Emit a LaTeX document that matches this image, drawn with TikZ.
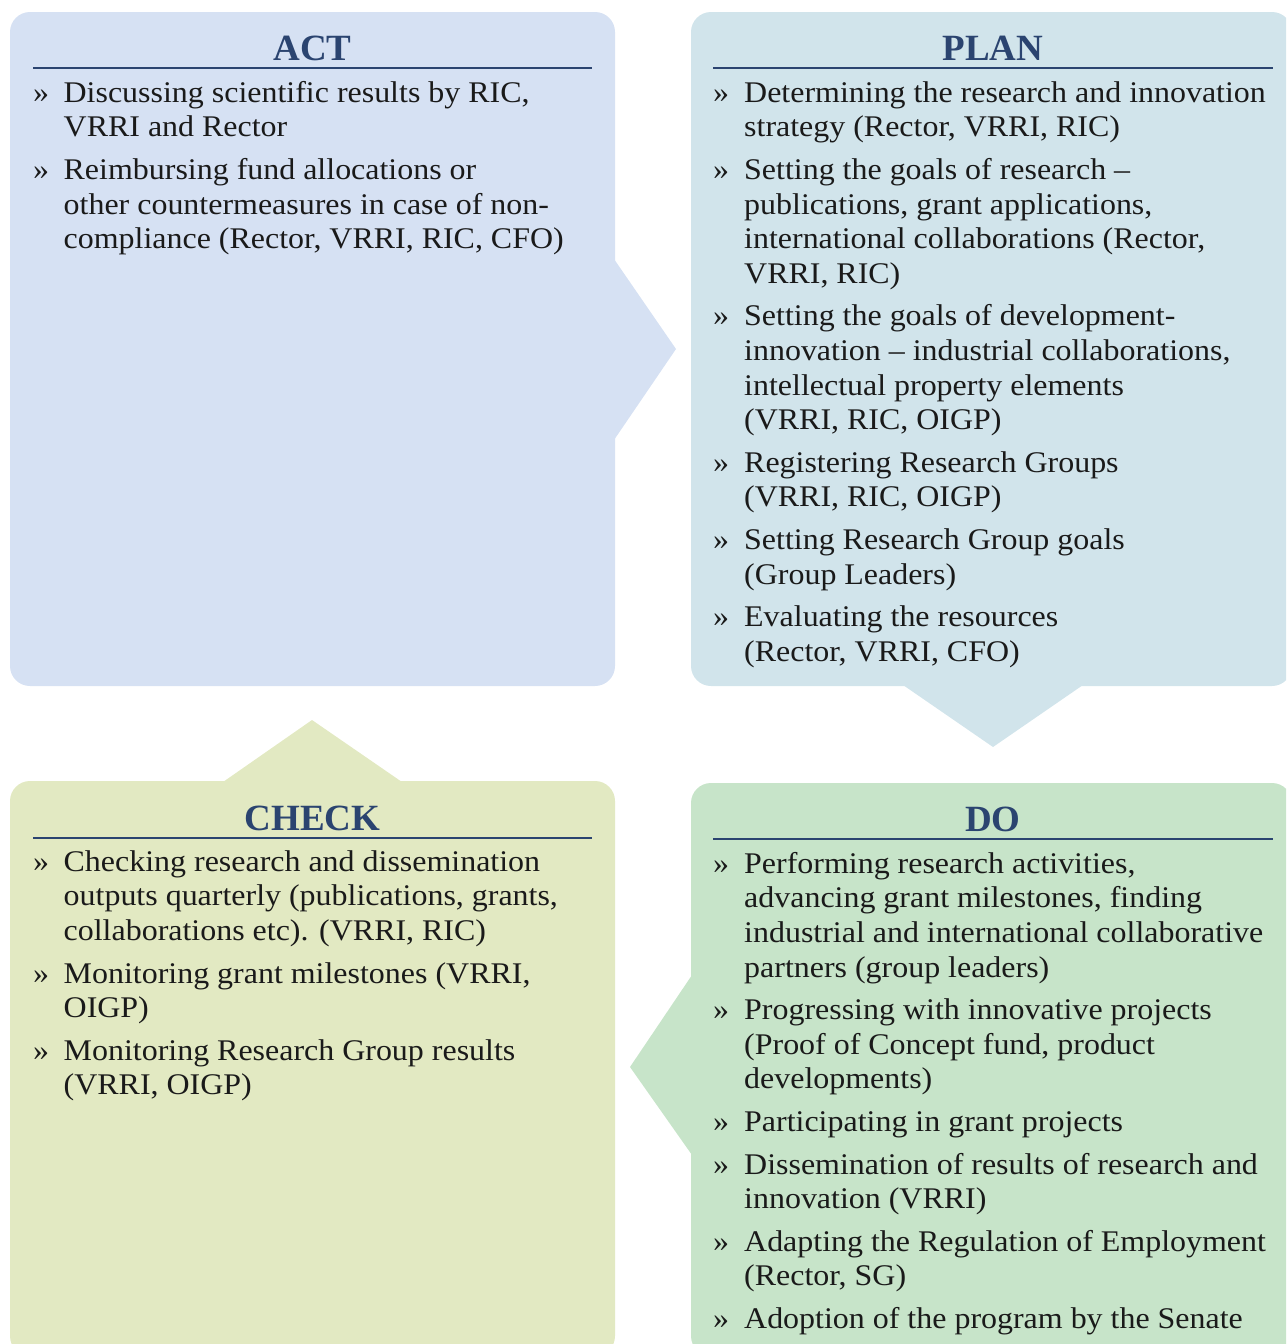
\documentclass[tikz,border=0pt]{standalone}
\usepackage{fontspec}
\setmainfont{Liberation Serif}
\newfontfamily\bodyfont[FakeStretch=1.065]{Liberation Serif}
\usepackage{array}
\definecolor{actfill}{HTML}{D6E1F3}
\definecolor{planfill}{HTML}{D1E4EB}
\definecolor{checkfill}{HTML}{E2E9C2}
\definecolor{dofill}{HTML}{C7E4C9}
\definecolor{titleblue}{HTML}{2B4470}
\definecolor{bodytext}{HTML}{1A1A1A}
\newcommand{\bl}{»}
\begin{document}
\begin{tikzpicture}[x=1pt,y=-1pt,
  panel/.style={rounded corners=20pt},
  titletext/.style={anchor=base,inner sep=0pt,text=titleblue,font=\fontsize{37}{44}\selectfont\bfseries},
  headrule/.style={draw=titleblue,line width=2pt},
  bodynode/.style={anchor=north west,inner sep=0pt,text=bodytext,font=\bodyfont\fontsize{30}{34.6}\selectfont}]
\useasboundingbox (0,0) rectangle (1286,1344);
\begin{scope}
\clip (0,0) rectangle (1286,1344);
% ACT
\fill[actfill,panel] (10,12) rectangle (615,686);
\fill[actfill] (614,259) -- (676,349) -- (614,440) -- cycle;
% PLAN
\fill[planfill,panel] (691,12) rectangle (1292,686);
\fill[planfill] (903,685) -- (993,747) -- (1083,685) -- cycle;
% CHECK
\fill[checkfill,panel] (10,781) rectangle (615,1356);
\fill[checkfill] (223,782) -- (312,720) -- (402,782) -- cycle;
% DO
\fill[dofill,panel] (691,783) rectangle (1292,1356);
\fill[dofill] (692,975) -- (630,1067) -- (692,1155) -- cycle;
\end{scope}
% titles
\node[titletext] (acttitle) at (312.5,60) {ACT};
\draw[headrule] (33,68) -- (592,68);
\node[titletext] (plantitle) at (993,60) {PLAN};
\draw[headrule] (713,68) -- (1273,68);
\node[titletext] (checktitle) at (312.5,830) {CHECK};
\draw[headrule] (33,838) -- (592,838);
\node[titletext] (dotitle) at (993,831) {DO};
\draw[headrule] (713,839) -- (1273,839);
% bodies
\node[bodynode] (actbody) at (33,77.8) {\begin{tabular}{@{}p{30.5pt}@{}l@{}}
\bl & Discussing scientific results by RIC,\\
 & VRRI and Rector\\[8pt]
\bl & Reimbursing fund allocations or\\
 & other countermeasures in case of non-\\
 & compliance (Rector, VRRI, RIC, CFO)
\end{tabular}};
\node[bodynode] (planbody) at (713,77.8) {\begin{tabular}{@{}p{31pt}@{}l@{}}
\bl & Determining the research and innovation\\
 & strategy (Rector, VRRI, RIC)\\[8pt]
\bl & Setting the goals of research –\\
 & publications, grant applications,\\
 & international collaborations (Rector,\\
 & VRRI, RIC)\\[8pt]
\bl & Setting the goals of development-\\
 & innovation – industrial collaborations,\\
 & intellectual property elements\\
 & (VRRI, RIC, OIGP)\\[8pt]
\bl & Registering Research Groups\\
 & (VRRI, RIC, OIGP)\\[8pt]
\bl & Setting Research Group goals\\
 & (Group Leaders)\\[8pt]
\bl & Evaluating the resources\\
 & (Rector, VRRI, CFO)
\end{tabular}};
\node[bodynode] (checkbody) at (33,846.8) {\begin{tabular}{@{}p{30.5pt}@{}l@{}}
\bl & Checking research and dissemination\\
 & outputs quarterly (publications, grants,\\
 & collaborations etc). (VRRI, RIC)\\[8pt]
\bl & Monitoring grant milestones (VRRI,\\
 & OIGP)\\[8pt]
\bl & Monitoring Research Group results\\
 & (VRRI, OIGP)
\end{tabular}};
\node[bodynode] (dobody) at (713,848.8) {\begin{tabular}{@{}p{31pt}@{}l@{}}
\bl & Performing research activities,\\
 & advancing grant milestones, finding\\
 & industrial and international collaborative\\
 & partners (group leaders)\\[8pt]
\bl & Progressing with innovative projects\\
 & (Proof of Concept fund, product\\
 & developments)\\[8pt]
\bl & Participating in grant projects\\[8pt]
\bl & Dissemination of results of research and\\
 & innovation (VRRI)\\[8pt]
\bl & Adapting the Regulation of Employment\\
 & (Rector, SG)\\[8pt]
\bl & Adoption of the program by the Senate
\end{tabular}};
\end{tikzpicture}
\end{document}
